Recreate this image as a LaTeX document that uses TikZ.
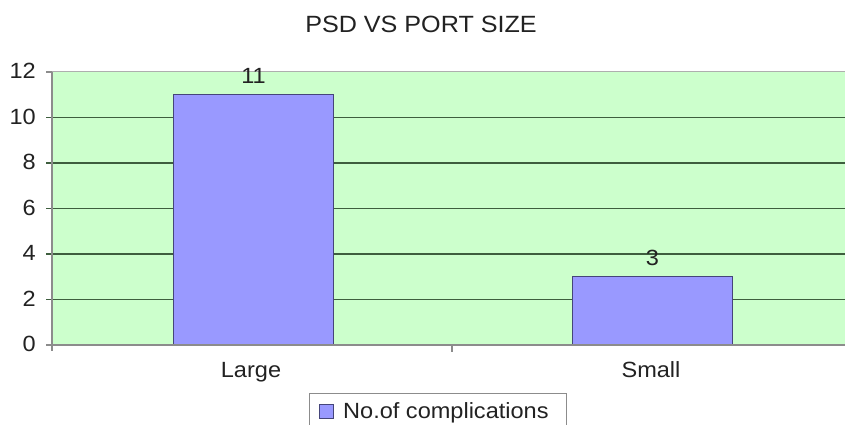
\documentclass[tikz,border=0pt]{standalone}
\usepackage{fontspec}
\setmainfont[FakeStretch=1.07]{Liberation Sans}
\definecolor{plotbg}{HTML}{CCFFCC}
\definecolor{barfill}{HTML}{9999FF}
\definecolor{barline}{HTML}{45457A}
\definecolor{gridc}{HTML}{3E5E3E}
\definecolor{axisc}{HTML}{8C8C8C}
\definecolor{txt}{HTML}{222222}
\begin{document}
\begin{tikzpicture}[x=1pt,y=-1pt,
  lbl/.style={font=\fontsize{22}{24}\selectfont, text=txt, inner sep=0pt},
  bar/.style={draw=barline, fill=barfill, line width=1pt, inner sep=0pt,
              minimum width=160pt, anchor=south west},
  gridline/.style={gridc, line width=1.2pt},
  axisline/.style={axisc, line width=1.2pt}]
\useasboundingbox (0,0) rectangle (845,425);
\fill[white] (0,0) rectangle (845,425);

% title
\node[lbl, font=\fontsize{23.5}{26}\selectfont, anchor=base] (title) at (421,33) {PSD VS PORT SIZE};

% plot area
\fill[plotbg] (52,72) rectangle (845,345);
\draw[axisc!70, line width=1pt] (52,72) -- (845,72);

% horizontal gridlines and y tick labels (22.75 units per step of 1)
\foreach \v in {2,4,6,8,10} {
  \draw[gridline] (46,{345-\v*22.75}) -- (845,{345-\v*22.75});
}
\foreach \v in {0,2,4,6,8,10,12} {
  \node[lbl, anchor=east] (ytick\v) at (36,{344-\v*22.75}) {\v};
}
\draw[axisline] (46,72) -- (52,72);
\draw[axisline] (46,345) -- (52,345);

% bars
\node[bar, minimum height={11*22.75pt}] (large) at (173,345) {};
\node[bar, minimum height={3*22.75pt}] (small) at (572,345) {};

% data labels
\node[lbl, anchor=base] (vlarge) at (large.north) [yshift=10pt] {11};
\node[lbl, anchor=base] (vsmall) at (small.north) [yshift=10pt] {3};

% axes
\draw[axisline] (52,72) -- (52,351);
\draw[axisline] (52,345) -- (845,345);
\draw[axisline] (452,345) -- (452,352);

% category labels
\node[lbl, anchor=base] (catlarge) at (251,377) {Large};
\node[lbl, anchor=base] (catsmall) at (651,377) {Small};

% legend
\draw[axisc, line width=1pt, fill=white] (309,393) rectangle (566,432);
\node[draw=barline, fill=barfill, line width=0.8pt, minimum size=14pt, inner sep=0pt] (key) at (326,411) {};
\node[lbl, anchor=base west] (legtext) at (343,418) {No.of complications};
\end{tikzpicture}
\end{document}
